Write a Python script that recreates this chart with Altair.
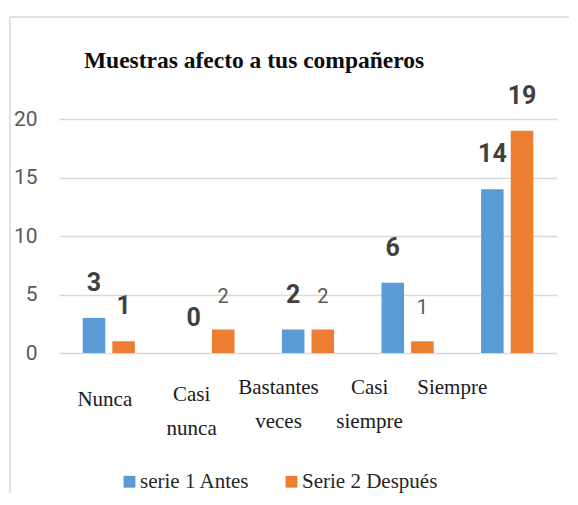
import altair as alt
import pandas as pd

# ---- data ----
categories = ["Nunca", "Casi nunca", "Bastantes veces", "Casi siempre", "Siempre"]
series_names = ["serie 1 Antes", "Serie 2 Después"]
antes = [3, 0, 2, 6, 14]
despues = [1, 2, 2, 1, 19]
title_text = "Muestras afecto a tus compañeros"

rows = []
for c, a, d in zip(categories, antes, despues):
    rows.append({"cat": c, "serie": series_names[0], "v": a})
    rows.append({"cat": c, "serie": series_names[1], "v": d})
df = pd.DataFrame(rows)

# labels drawn in regular (non-bold) weight in the reference
plain_keys = [("Casi nunca", series_names[1]), ("Bastantes veces", series_names[1]),
              ("Casi siempre", series_names[1])]
df["plain"] = [(c, s) in plain_keys for c, s in zip(df["cat"], df["serie"])]

SERIF = "Liberation Serif, Times New Roman, serif"
SANS = "Roboto, Liberation Sans, sans-serif"

x_enc = alt.X(
    "cat:N", sort=categories, title=None,
    scale=alt.Scale(paddingInner=0, paddingOuter=0),
    axis=alt.Axis(
        labelExpr="split(datum.label, ' ')",
        labelFont=SERIF, labelFontSize=21, labelColor="#1a1a1a",
        labelAngle=0, labelBaseline="alphabetic", labelLineHeight=34,
        labelPadding={"expr": "datum.value == 'Nunca' ? 52 : (datum.value == 'Casi nunca' ? 47 : 40)"},
        labelOffset={"expr": "datum.value == 'Casi siempre' ? -38 : -4 - 51 * datum.index"},
        domain=False, ticks=False, grid=False,
    ),
)
xo_enc = alt.XOffset("serie:N", sort=series_names,
                     scale=alt.Scale(paddingInner=0.24, paddingOuter=0.8))
y_enc = alt.Y(
    "v:Q", title=None,
    scale=alt.Scale(domain=[0, 20], nice=False),
    axis=alt.Axis(values=[0, 5, 10, 15, 20], labelFont=SANS, labelFontSize=21,
                  labelColor="#595959", labelPadding=22, domain=False, ticks=False,
                  grid=True, gridColor="#d9d9d9", gridWidth=1.5),
)

base = alt.Chart(df)

bars = base.mark_bar().encode(
    x=x_enc, xOffset=xo_enc, y=y_enc,
    color=alt.Color(
        "serie:N",
        scale=alt.Scale(domain=series_names, range=["#5B9BD5", "#ED7D31"]),
        legend=alt.Legend(
            title=None, orient="none", legendX=60, legendY=352, direction="horizontal",
            symbolType="square", symbolSize=140, symbolStrokeWidth=0, symbolOpacity=1,
            labelFont=SERIF, labelFontSize=21, labelColor="#262626",
            labelOffset=0, columnPadding=31, padding=0,
        ),
    ),
)

bold_labels = base.transform_filter("!datum.plain").mark_text(
    baseline="alphabetic", dy=-27, font=SANS, fontSize=25, fontWeight="bold",
    color="#404040",
).encode(x=x_enc, xOffset=xo_enc, y=y_enc, text="v:Q")

plain_labels = base.transform_filter("datum.plain").mark_text(
    baseline="alphabetic", dy=-27, font=SANS, fontSize=20, fontWeight="normal",
    color="#595959",
).encode(x=x_enc, xOffset=xo_enc, y=y_enc, text="v:Q")

frame_src = alt.Chart(pd.DataFrame({"k": [0]}))
frame_top = frame_src.mark_rule(color="#d9d9d9", strokeWidth=1.5).encode(
    x=alt.value(-49), x2=alt.value(519), y=alt.value(-102))
frame_left = frame_src.mark_rule(color="#d9d9d9", strokeWidth=1.5).encode(
    x=alt.value(-49), y=alt.value(-102), y2=alt.value(386))
title_mark = frame_src.mark_text(
    font=SERIF, fontSize=23.5, fontWeight="bold", color="#0d0d0d",
    align="center", baseline="alphabetic",
).encode(x=alt.value(195), y=alt.value(-51), text=alt.value(title_text))

chart = alt.layer(frame_top, frame_left, title_mark, bars, bold_labels, plain_labels).properties(
    width=498, height=234,
    padding={"left": 51, "top": 111, "right": 12, "bottom": 140},
    autosize="none",
).configure_view(stroke=None)

chart.save("out.html", embed_options={"renderer": "svg", "actions": False})
